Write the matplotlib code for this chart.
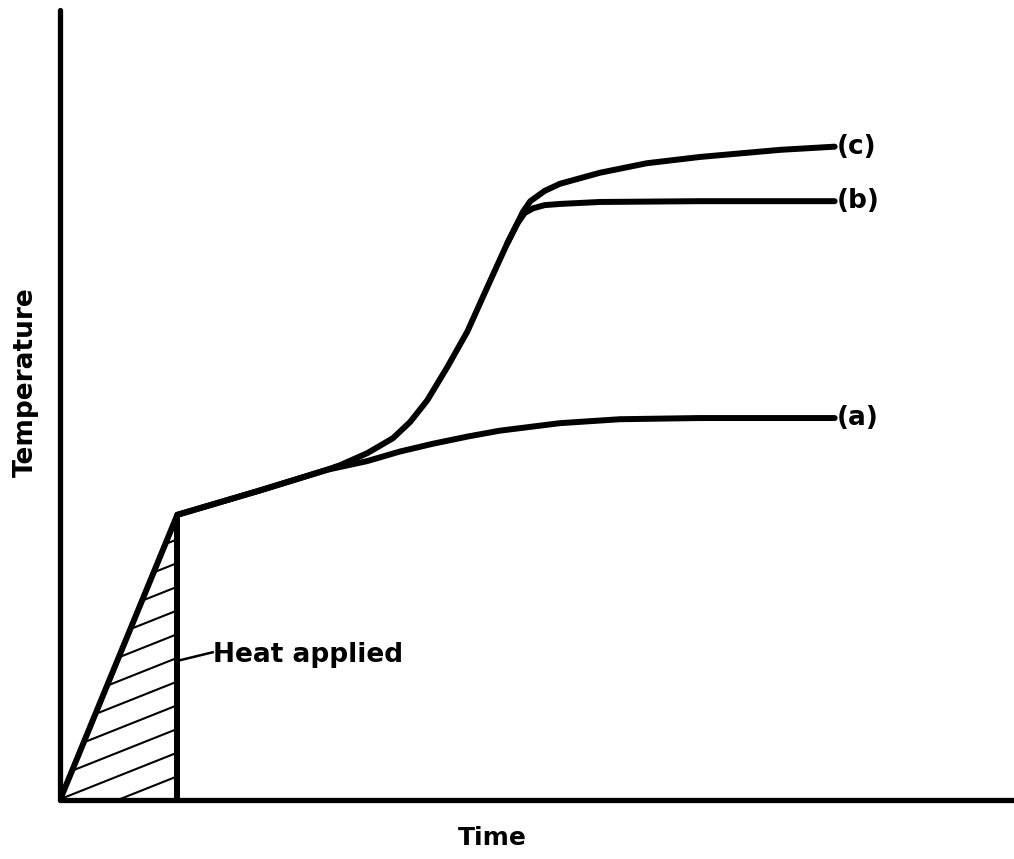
import numpy as np
import matplotlib
matplotlib.use("Agg")
import matplotlib.pyplot as plt
from matplotlib.patches import Polygon

# abstract units: time 0..100, temperature 0..100
heat_end = 12.3
heat_peak = 36.1

# curve (a): slow rise after heating stops
a_time = [12.3, 21.0, 28.0, 32.2, 35.6, 39.1, 42.7, 46.1, 52.4, 58.7, 67.1, 74.0, 81.2]
a_temp = [36.1, 39.2, 41.8, 42.9, 44.1, 45.1, 46.0, 46.75, 47.7, 48.2, 48.35, 48.35, 48.35]

# curve (b): runaway then plateau
b_time = [12.3, 21.0, 28.0, 29.4, 32.2, 34.9, 36.7, 38.5, 40.6, 42.7, 44.3, 45.8, 46.9,
          47.9, 48.7, 49.6, 50.8, 52.4, 56.6, 67.1, 81.2]
b_temp = [36.1, 39.2, 41.8, 42.4, 43.9, 45.8, 47.85, 50.6, 54.8, 59.3, 63.6, 67.6, 70.5,
          72.9, 74.3, 74.9, 75.3, 75.45, 75.7, 75.8, 75.8]

# curve (c): keeps climbing
c_time = [46.9, 47.9, 48.5, 49.3, 50.8, 52.4, 56.6, 61.5, 67.1, 75.5, 81.2]
c_temp = [70.5, 72.9, 74.4, 75.8, 77.1, 78.0, 79.4, 80.6, 81.4, 82.3, 82.7]

fig = plt.figure(figsize=(10.14, 8.59), dpi=100)
ax = fig.add_axes([60 / 1014, 59 / 859, 954 / 1014, 790 / 859])
ax.set_xlim(0, 100)
ax.set_ylim(0, 100)
ax.set_xticks([])
ax.set_yticks([])
for s in ["top", "right"]:
    ax.spines[s].set_visible(False)
for s in ["left", "bottom"]:
    ax.spines[s].set_linewidth(3.8)
    ax.spines[s].set_capstyle("round")

lw = 4.3
# heating ramp and cut-off
ax.plot([0, heat_end], [0, heat_peak], color="black", lw=lw, solid_capstyle="round")
ax.plot([heat_end, heat_end], [0, heat_peak], color="black", lw=lw, solid_capstyle="butt")

# hatching inside the heat-applied triangle
tri = Polygon([[0, 0], [heat_end, heat_peak], [heat_end, 0]], closed=True,
              facecolor="none", edgecolor="none")
ax.add_patch(tri)
slope = 0.48
for c in np.arange(-slope * heat_end, heat_peak, 3.0):
    ln, = ax.plot([0, heat_end], [c, c + slope * heat_end], color="black", lw=1.5)
    ln.set_clip_path(tri)

kw = dict(color="black", lw=lw, solid_capstyle="round", solid_joinstyle="round")
ax.plot(a_time, a_temp, **kw)
ax.plot(b_time, b_temp, **kw)
ax.plot(c_time, c_temp, **kw)

lab = dict(fontsize=19, fontweight="bold", va="center", ha="left", family="DejaVu Sans")
ax.text(a_time[-1] + 0.2, a_temp[-1], "(a)", **lab)
ax.text(b_time[-1] + 0.2, b_temp[-1], "(b)", **lab)
ax.text(c_time[-1] + 0.2, c_temp[-1], "(c)", **lab)

ax.plot([heat_end + 0.3, 16.0], [17.7, 18.7], color="black", lw=1.8)
ax.text(16.0, 18.3, "Heat applied", **lab)

fig.text(0.026, 0.555, "Temperature", rotation=90, fontsize=19, fontweight="bold",
         ha="center", va="center")
fig.text(0.486, 0.025, "Time", fontsize=18, fontweight="bold", ha="center", va="center")

fig.savefig("out.png", dpi=100)
